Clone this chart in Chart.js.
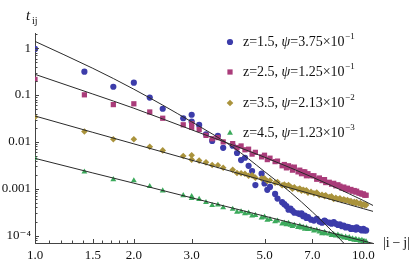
<!DOCTYPE html>
<html>
<head>
<meta charset="utf-8">
<script src="https://cdn.jsdelivr.net/npm/chart.js@4.4.1/dist/chart.umd.min.js"></script>
<style>
    html, body { margin: 0; padding: 0; background: #fff; }
    #caixa { width: 415px; height: 264px; }
</style>
</head>
<body>
<div id="caixa"><canvas id="grafico" width="415" height="264"></canvas></div>
<script>
// distancias |i-j| (mesmo x para as quatro series)
const distancias = [1, 1.414, 1.732, 2, 2.236, 2.449, 2.828, 3, 3, 3.162,
    3.317, 3.464, 3.606, 3.742, 4, 4.123, 4.243, 4.359, 4.472, 4.583,
    4.690, 4.899, 5, 5.099, 5.196, 5.385, 5.477, 5.657, 5.745, 5.831,
    5.916, 6, 6.083, 6.164, 6.325, 6.403, 6.481, 6.557, 6.633, 6.708,
    6.782, 6.928, 7.071, 7.211, 7.348, 7.483, 7.616, 7.681, 7.874, 8,
    8.124, 8.246, 8.367, 8.485, 8.602, 8.718, 8.832, 8.944, 9.055, 9.165,
    9.274, 9.381, 9.487, 9.539, 9.695, 9.798, 9.899, 10, 10.1, 10.198]

const tZ15 = [0.96, 0.315, 0.15, 0.183, 0.088, 0.051, 0.032, 0.038, 0.027, 0.023,
    0.0145, 0.0105, 0.0135, 0.0075, 0.0083, 0.0058, 0.0041, 0.0046, 0.0031, 0.0024,
    0.0012, 0.0021, 0.0013, 0.00095, 0.0011, 0.00078, 0.00062, 0.00052, 0.00047, 0.00043,
    0.00036, 0.00038, 0.00034, 0.00031, 0.00030, 0.00029, 0.00030, 0.00026, 0.00027, 0.00024,
    0.00025, 0.00022, 0.00021, 0.00023, 0.00020, 0.00019, 0.00021, 0.00020, 0.00019, 0.00018,
    0.000195, 0.00018, 0.00017, 0.000175, 0.00016, 0.000165, 0.00015, 0.000155, 0.00015, 0.00014,
    0.000145, 0.00014, 0.000135, 0.00015, 0.00014, 0.000135, 0.00013, 0.00014, 0.00013, 0.00013]

const tZ25 = [0.215, 0.101, 0.0625, 0.065, 0.0435, 0.032, 0.0232, 0.0245, 0.0205, 0.0184,
    0.0138, 0.0117, 0.0124, 0.0100, 0.0092, 0.0076, 0.0082, 0.0068, 0.0070, 0.0055,
    0.0060, 0.0048, 0.0052, 0.0042, 0.0045, 0.0038, 0.0039, 0.0031, 0.0033, 0.0028,
    0.0031, 0.0029, 0.0025, 0.0029, 0.0023, 0.0025, 0.0021, 0.0023, 0.0023, 0.0019,
    0.0021, 0.0019, 0.0019, 0.0016, 0.0017, 0.0015, 0.00157, 0.00136, 0.00138, 0.00126,
    0.00131, 0.00116, 0.00122, 0.00114, 0.00104, 0.00109, 0.00098, 0.00103, 0.00094, 0.00097,
    0.00089, 0.00092, 0.00085, 0.00089, 0.00081, 0.00081, 0.00077, 0.00078, 0.00073, 0.00073]

const tZ35 = [0.034, 0.0167, 0.0114, 0.0114, 0.0079, 0.0066, 0.0050, 0.0052, 0.0042, 0.0040,
    0.00367, 0.00321, 0.00318, 0.00282, 0.00254, 0.00218, 0.00215, 0.00209, 0.0019, 0.00194,
    0.00173, 0.00166, 0.00167, 0.00147, 0.00151, 0.00135, 0.00139, 0.00119, 0.00124, 0.00115,
    0.0012, 0.00111, 0.00101, 0.00108, 0.00098, 0.00102, 0.00091, 0.00095, 0.00091, 0.00093,
    0.00083, 0.00086, 0.0008, 0.00083, 0.00073, 0.00075, 0.0007, 0.00073, 0.00067, 0.00069,
    0.00061, 0.00064, 0.0006, 0.00063, 0.00057, 0.0006, 0.00056, 0.00058, 0.00054, 0.00055,
    0.0005, 0.00053, 0.00049, 0.00052, 0.00048, 0.0005, 0.00045, 0.00047, 0.00045, 0.00045]

const tZ45 = [0.00453, 0.0023, 0.00158, 0.0015, 0.00113, 0.00091, 0.00072, 0.00069, 0.00063, 0.0006,
    0.000516, 0.000446, 0.000456, 0.000398, 0.000371, 0.000321, 0.000327, 0.000298, 0.000305, 0.000266,
    0.000274, 0.000242, 0.000251, 0.000216, 0.000223, 0.0002, 0.000208, 0.000179, 0.000187, 0.000174,
    0.000186, 0.000169, 0.000158, 0.000169, 0.000151, 0.000162, 0.000148, 0.000152, 0.000139, 0.000149,
    0.000137, 0.000138, 0.000127, 0.000132, 0.000122, 0.000112, 0.000119, 0.000112, 0.00011, 0.000102,
    0.000107, 0.0000991, 0.000104, 0.0000966, 0.0000964, 0.00009, 0.0000942, 0.0000879, 0.0000923, 0.0000843,
    0.0000865, 0.0000809, 0.0000849, 0.0000804, 0.0000818, 0.0000767, 0.0000807, 0.0000757, 0.000076, 0.0000748]

// curvas de ajuste
const ajusteX = [1, 1.5, 2, 3, 4, 5, 6, 7, 8, 9, 10, 10.7]
const ajusteZ15 = [1.39, 0.371, 0.133, 0.0268, 0.0078, 0.00234, 0.00084, 0.00032, 0.000129, 0.000055, 0.000024, 0.000013]
const ajusteZ25 = [0.276, 0.105, 0.0523, 0.0181, 0.00862, 0.00473, 0.0028, 0.00177, 0.00117, 0.0008, 0.000564, 0.000442]
const ajusteZ35 = [0.0357, 0.016, 0.0091, 0.00408, 0.00231, 0.00149, 0.00104, 0.000766, 0.000588, 0.000466, 0.000378, 0.000331]
const ajusteZ45 = [0.00446, 0.00218, 0.00132, 0.000644, 0.000388, 0.000262, 0.00019, 0.000145, 0.000115, 0.0000933, 0.0000774, 0.0000687]

const legendaZ = ['1.5', '2.5', '3.5', '4.5']
const legendaPsi = ['3.75', '1.25', '2.13', '1.23']
const legendaExp = ['\u22121', '\u22121', '\u22122', '\u22123']

const xTicks = [1, 1.5, 2, 3, 5, 7, 10]
const xTicksMenores = [1.1, 1.2, 1.3, 1.4, 1.6, 1.7, 1.8, 1.9]
const yTicks = [0.0001, 0.001, 0.01, 0.1, 1]
const yTickLabels = ['10\u207B\u2074', '0.001', '0.01', '0.1', '1']

const cores = ['#3c3caa', '#aa3c7a', '#aa933c', '#3caa5c']
const estilos = ['circle', 'rect', 'rectRot', 'triangle']
const raios = [3.1, 3.7, 3.3, 3.4]

const fonte = '"Liberation Serif", "DejaVu Serif", serif'
Chart.defaults.font.family = fonte

function pontos(xs, ys) {
    return xs.map((x, i) => ({ x: x, y: ys[i] }))
}

const series = [tZ15, tZ25, tZ35, tZ45]
const ajustes = [ajusteZ15, ajusteZ25, ajusteZ35, ajusteZ45]

const datasets = []
ajustes.forEach(aj => {
    datasets.push({
        data: pontos(ajusteX, aj),
        showLine: true,
        borderColor: '#2a2a2a',
        borderWidth: 1,
        pointRadius: 0,
        cubicInterpolationMode: 'monotone',
        order: 0
    })
})
series.forEach((s, i) => {
    datasets.push({
        data: pontos(distancias, s),
        showLine: false,
        pointStyle: estilos[i],
        pointRadius: raios[i],
        backgroundColor: cores[i],
        borderWidth: 0,
        order: 4 - i
    })
})

const ticksInternos = {
    id: 'ticksInternos',
    afterDraw(chart) {
        const ctx = chart.ctx
        const xs = chart.scales.x
        const ys = chart.scales.y
        const area = chart.chartArea
        ctx.save()
        ctx.strokeStyle = '#444'
        ctx.lineWidth = 1
        ctx.beginPath()
        xTicks.forEach(v => {
            const px = Math.round(xs.getPixelForValue(v)) + 0.5
            ctx.moveTo(px, area.bottom)
            ctx.lineTo(px, area.bottom - 4)
        })
        xTicksMenores.forEach(v => {
            const px = Math.round(xs.getPixelForValue(v)) + 0.5
            ctx.moveTo(px, area.bottom)
            ctx.lineTo(px, area.bottom - 2.5)
        })
        yTicks.forEach(v => {
            const py = Math.round(ys.getPixelForValue(v)) + 0.5
            ctx.moveTo(area.left, py)
            ctx.lineTo(area.left + 4, py)
        })
        for (let d = -5; d <= 0; d++) {
            for (let m = 2; m <= 9; m++) {
                const v = m * Math.pow(10, d)
                if (v < ys.min || v > ys.max) continue
                const py = Math.round(ys.getPixelForValue(v)) + 0.5
                ctx.moveTo(area.left, py)
                ctx.lineTo(area.left + 2.5, py)
            }
        }
        ctx.stroke()
        ctx.restore()
    }
}

const textos = {
    id: 'textos',
    afterDraw(chart) {
        const ctx = chart.ctx
        const area = chart.chartArea
        ctx.save()
        ctx.fillStyle = '#111'
        ctx.textBaseline = 'alphabetic'
        ctx.textAlign = 'left'

        // rotulo do eixo y
        ctx.font = 'italic 15px ' + fonte
        ctx.fillText('t', 26, 20)
        ctx.font = '10px ' + fonte
        ctx.fillText('ij', 32, 24)

        // rotulo do eixo x
        ctx.font = '14px ' + fonte
        ctx.fillText('|i\u2009\u2212\u2009j|', 383, area.bottom + 4)

        // legenda
        const xMarca = 230
        const xTexto = 243
        const linhas = [42, 72, 103, 133]
        legendaZ.forEach((z, i) => {
            const y = linhas[i]
            ctx.fillStyle = cores[i]
            Chart.helpers.drawPoint(ctx, { pointStyle: estilos[i], radius: raios[i], borderWidth: 0, rotation: 0 }, xMarca, y)
            ctx.fillStyle = '#111'
            ctx.textBaseline = 'middle'
            let x = xTexto
            ctx.font = '14px ' + fonte
            let s = 'z=' + z + ', '
            ctx.fillText(s, x, y)
            x += ctx.measureText(s).width
            ctx.font = 'italic 14px ' + fonte
            ctx.fillText('\u03C8', x, y)
            x += ctx.measureText('\u03C8').width
            ctx.font = '14px ' + fonte
            s = '=' + legendaPsi[i] + '\u00D710'
            ctx.fillText(s, x, y)
            x += ctx.measureText(s).width + 0.5
            ctx.font = '9px ' + fonte
            ctx.fillText(legendaExp[i], x, y - 5)
        })
        ctx.restore()
    }
}

new Chart(document.getElementById('grafico'), {
    type: 'scatter',
    data: { datasets: datasets },
    options: {
        responsive: false,
        animation: false,
        layout: { padding: { top: 33, right: 42, left: 0, bottom: 0 } },
        plugins: {
            legend: { display: false },
            tooltip: { enabled: false }
        },
        scales: {
            x: {
                type: 'logarithmic',
                min: 1,
                max: 10.7,
                afterFit: scale => { scale.height = 21 },
                afterBuildTicks: scale => { scale.ticks = xTicks.map(v => ({ value: v })) },
                grid: { display: false, drawTicks: false },
                border: { display: true, color: '#444', width: 1 },
                ticks: {
                    autoSkip: false,
                    maxRotation: 0,
                    padding: 5,
                    color: '#111',
                    font: { size: 13 },
                    callback: value => Number(value).toFixed(1)
                }
            },
            y: {
                type: 'logarithmic',
                min: 0.0000707,
                max: 2.1,
                afterFit: scale => { scale.width = 35 },
                afterBuildTicks: scale => { scale.ticks = yTicks.map(v => ({ value: v })) },
                grid: { display: false, drawTicks: false },
                border: { display: true, color: '#444', width: 1 },
                ticks: {
                    autoSkip: false,
                    padding: 4,
                    color: '#111',
                    font: { size: 13 },
                    callback: (value, index) => yTickLabels[index]
                }
            }
        }
    },
    plugins: [ticksInternos, textos]
})
</script>
</body>
</html>
